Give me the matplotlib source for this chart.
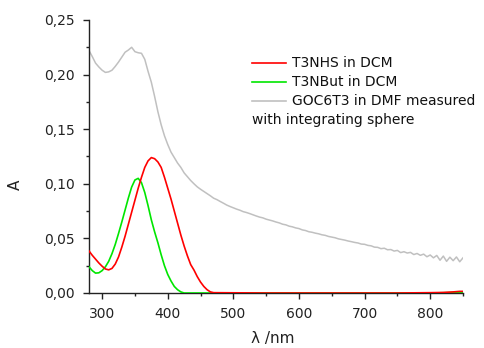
import numpy as np
import matplotlib
matplotlib.use("Agg")
import matplotlib.pyplot as plt
from matplotlib.ticker import MultipleLocator, FuncFormatter
from matplotlib.lines import Line2D

# ---------------- data ----------------
gray_wl = list(range(280, 851, 5))
gray_A = [0.2220, 0.2165, 0.2105, 0.2070, 0.2040, 0.2020, 0.2025, 0.2040, 0.2075, 0.2115,
          0.2160, 0.2205, 0.2225, 0.2250, 0.2210, 0.2200, 0.2195, 0.2140, 0.2030, 0.1930,
          0.1800, 0.1660, 0.1540, 0.1440, 0.1360, 0.1290, 0.1240, 0.1190, 0.1150, 0.1100,
          0.1065, 0.1030, 0.1000, 0.0972, 0.0950, 0.0930, 0.0910, 0.0890, 0.0868, 0.0855,
          0.0838, 0.0822, 0.0805, 0.0792, 0.0780, 0.0768, 0.0758, 0.0745, 0.0737, 0.0727,
          0.0716, 0.0705, 0.0695, 0.0688, 0.0676, 0.0668, 0.0660, 0.0650, 0.0642, 0.0630,
          0.0624, 0.0612, 0.0606, 0.0596, 0.0590, 0.0578, 0.0572, 0.0561, 0.0556, 0.0548,
          0.0542, 0.0533, 0.0528, 0.0518, 0.0512, 0.0506, 0.0496, 0.0490, 0.0484, 0.0476,
          0.0470, 0.0463, 0.0458, 0.0448, 0.0446, 0.0436, 0.0432, 0.0420, 0.0418, 0.0406,
          0.0410, 0.0396, 0.0398, 0.0384, 0.0390, 0.0370, 0.0378, 0.0366, 0.0372, 0.0352,
          0.0362, 0.0345, 0.0356, 0.0332, 0.0348, 0.0322, 0.0344, 0.0300, 0.0338, 0.0290,
          0.0328, 0.0296, 0.0330, 0.0286, 0.0322]

red_wl = list(range(280, 471, 5)) + [550, 650, 750, 800, 820, 835, 845, 850]
red_A = [0.0385, 0.0345, 0.0310, 0.0275, 0.0245, 0.0220, 0.0212, 0.0225, 0.0265, 0.0330,
         0.0420, 0.0520, 0.0630, 0.0740, 0.0850, 0.0960, 0.1060, 0.1150, 0.1210, 0.1240,
         0.1230, 0.1200, 0.1150, 0.1060, 0.0960, 0.0860, 0.0750, 0.0640, 0.0530, 0.0430,
         0.0340, 0.0260, 0.0210, 0.0150, 0.0100, 0.0060, 0.0030, 0.0010, 0.0003,
         0.0, 0.0, 0.0, 0.0003, 0.0005, 0.0010, 0.0015, 0.0015]

green_wl = list(range(280, 426, 5)) + [600, 800, 840, 850]
green_A = [0.0240, 0.0205, 0.0182, 0.0185, 0.0205, 0.0240, 0.0290, 0.0360, 0.0445, 0.0545,
           0.0650, 0.0760, 0.0870, 0.0970, 0.1035, 0.1050, 0.1010, 0.0920, 0.0800, 0.0670,
           0.0560, 0.0460, 0.0350, 0.0250, 0.0170, 0.0110, 0.0060, 0.0030, 0.0010, 0.0,
           0.0, 0.0, 0.0005, 0.0008]

labels = ["T3NHS in DCM", "T3NBut in DCM", "GOC6T3 in DMF measured"]
label_extra = "with integrating sphere"
colors = ["#ff0000", "#00e600", "#c0c0c0"]

# ---------------- figure ----------------
fig = plt.figure(figsize=(4.85, 3.48), dpi=100)
ax = fig.add_axes([89 / 485, 1 - 293 / 348, (463 - 89) / 485, (293 - 20) / 348])

ax.plot(gray_wl, gray_A, color=colors[2], lw=1.1, zorder=2)
ax.plot(green_wl, green_A, color=colors[1], lw=1.2, zorder=3)
ax.plot(red_wl, red_A, color=colors[0], lw=1.2, zorder=4)

ax.set_xlim(280, 850)
ax.set_ylim(0, 0.25)

for s in ["top", "right"]:
    ax.spines[s].set_visible(False)
for s in ["left", "bottom"]:
    ax.spines[s].set_linewidth(1.0)
    ax.spines[s].set_color("#222222")

ax.xaxis.set_major_locator(MultipleLocator(100))
ax.xaxis.set_minor_locator(MultipleLocator(50))
ax.yaxis.set_major_locator(MultipleLocator(0.05))
ax.yaxis.set_minor_locator(MultipleLocator(0.025))
ax.yaxis.set_major_formatter(FuncFormatter(lambda v, p: f"{v:.2f}".replace(".", ",")))
ax.tick_params(which="major", direction="out", length=4, width=1, labelsize=10,
               colors="#222222", pad=6)
ax.tick_params(which="minor", direction="out", length=2.5, width=1, colors="#222222")

fig.text(273 / 485, 1 - 338 / 348, "λ /nm", ha="center", va="center", fontsize=11, color="#222222")
fig.text(15 / 485, 1 - 185 / 348, "A", ha="center", va="center", rotation=90, fontsize=11, color="#222222")

# legend (manual)
ys = [63, 82, 101]
for lab, col, yp in zip(labels, colors, ys):
    yf = 1 - yp / 348
    fig.add_artist(Line2D([252 / 485, 286 / 485], [yf, yf], color=col, lw=1.2))
    fig.text(292 / 485, yf, lab, ha="left", va="center", fontsize=10, color="#111111")
fig.text(252 / 485, 1 - 120 / 348, label_extra, ha="left", va="center", fontsize=10, color="#111111")

fig.savefig("out.png", dpi=100)
